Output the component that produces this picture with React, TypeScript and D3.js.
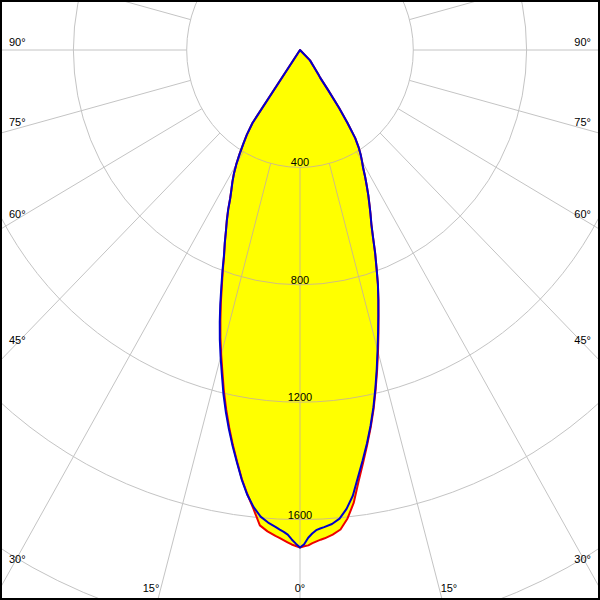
import React from "react";
import * as d3 from "d3";

// Polar angles (degrees from nadir) at which intensities were read
const angles = [0, 0.5, 1, 1.5, 2, 2.5, 3, 4, 5, 6, 7, 8, 9, 10, 11, 12, 13, 14, 15, 16, 17, 18, 19, 20, 21, 22, 23, 24, 25, 26, 27, 28, 29, 30, 31, 32, 33, 34, 35, 36, 37, 38, 40, 45, 50, 55, 60, 65, 70, 75, 80, 85, 90];

// Blue curve (cd), left and right half-planes
const blueLeft = [1695, 1682, 1668, 1652, 1643, 1636, 1628, 1614, 1596, 1566, 1527, 1478, 1423, 1370, 1316, 1260, 1202, 1140, 1083, 1027, 969, 911, 853, 800, 749, 709, 669, 635, 600, 562, 533, 508, 481, 450, 415, 379, 345, 300, 0, 0, 0, 0, 0, 0, 0, 0, 0, 0, 0, 0, 0, 0, 0];
const blueRight = [1695, 1684, 1662, 1648, 1637, 1632, 1628, 1619, 1603, 1572, 1530, 1470, 1415, 1361, 1305, 1246, 1183, 1120, 1058, 1000, 946, 895, 845, 790, 740, 688, 645, 612, 580, 550, 519, 490, 460, 438, 416, 390, 358, 300, 240, 170, 119, 105, 80, 50, 0, 0, 0, 0, 0, 0, 0, 0, 0];

// Red curve (cd), left and right half-planes
const redLeft = [1695, 1690, 1685, 1678, 1671, 1664, 1658, 1644, 1626, 1572, 1525, 1476, 1420, 1366, 1310, 1253, 1194, 1132, 1075, 1019, 961, 904, 847, 796, 747, 708, 669, 635, 600, 562, 533, 508, 481, 450, 415, 379, 345, 300, 0, 0, 0, 0, 0, 0, 0, 0, 0, 0, 0, 0, 0, 0, 0];
const redRight = [1695, 1691, 1688, 1681, 1675, 1670, 1666, 1655, 1640, 1605, 1555, 1485, 1424, 1366, 1309, 1250, 1187, 1125, 1064, 1005, 948, 896, 845, 790, 740, 688, 645, 612, 580, 550, 519, 490, 460, 438, 416, 390, 358, 300, 240, 170, 119, 105, 80, 50, 0, 0, 0, 0, 0, 0, 0, 0, 0];

// Grid
const ringValues = [400, 800, 1200, 1600, 2000, 2400, 2800, 3200];
const ringLabels = [400, 800, 1200, 1600];
const spokeAngles = d3.range(0, 360, 15);
const angleLabels = [0, 15, 30, 45, 60, 75, 90];

const W = 600;
const H = 600;
const cx = 300;
const cy = 50;
const rX = d3.scaleLinear().domain([0, 400]).range([0, 113.3]);
const rY = d3.scaleLinear().domain([0, 400]).range([0, 117.4]);

const FONT = "'Liberation Sans', Arial, sans-serif";
const GRID = "#c4c4c4";
const GRID_ON_FILL = "#cfbd82";

function pt(angleDeg: number, value: number, side: number): [number, number] {
  const a = (angleDeg * Math.PI) / 180;
  return [cx + side * Math.sin(a) * rX(value), cy + Math.cos(a) * rY(value)];
}

function curvePoints(left: number[], right: number[]): [number, number][] {
  const pts: [number, number][] = [];
  for (let i = angles.length - 1; i >= 0; i--) pts.push(pt(angles[i], left[i], -1));
  for (let i = 1; i < angles.length; i++) pts.push(pt(angles[i], right[i], 1));
  return pts;
}

const lineGen = d3.line().curve(d3.curveLinearClosed);

function Grid({ color, clip }: { color: string; clip?: string }) {
  return (
    <g clipPath={clip} fill="none" stroke={color} strokeWidth={1}>
      {ringValues.map((v) => (
        <ellipse key={"r" + v} cx={cx} cy={cy} rx={rX(v)} ry={rY(v)} />
      ))}
      {spokeAngles.map((a) => {
        const p0 = pt(a, 400, 1);
        const p1 = pt(a, 4000, 1);
        return <line key={"s" + a} x1={p0[0]} y1={p0[1]} x2={p1[0]} y2={p1[1]} />;
      })}
    </g>
  );
}

function angleLabelNodes() {
  const nodes: JSX.Element[] = [];
  angleLabels.forEach((a) => {
    const sides = a === 0 ? [1] : [-1, 1];
    sides.forEach((s) => {
      const rad = (a * Math.PI) / 180;
      const dx = s * Math.sin(rad) * rX(1);
      const dy = Math.cos(rad) * rY(1);
      const tBottom = dy > 1e-9 ? (H - cy) / dy : Infinity;
      const tSide = Math.abs(dx) > 1e-9 ? (s > 0 ? W - cx : cx) / Math.abs(dx) : Infinity;
      const txt = `${a}°`;
      if (tBottom < tSide) {
        const yb = 590;
        const t = (yb - cy) / dy;
        const x = cx + dx * t;
        const anchor = a === 0 ? "middle" : s < 0 ? "end" : "start";
        nodes.push(
          <text key={`l${a}_${s}`} x={a === 0 ? x : x + s * 1} y={592} textAnchor={anchor}>
            {txt}
          </text>
        );
      } else {
        const xl = s < 0 ? 12 : W - 12;
        const t = Math.abs(xl - cx) / Math.abs(dx);
        const y = cy + dy * t;
        nodes.push(
          <text key={`l${a}_${s}`} x={s < 0 ? 9 : W - 9} y={y - 4} textAnchor={s < 0 ? "start" : "end"}>
            {txt}
          </text>
        );
      }
    });
  });
  return nodes;
}

export default function App() {
  const redPts = curvePoints(redLeft, redRight);
  const bluePts = curvePoints(blueLeft, blueRight);
  const redPath = lineGen(redPts) || "";
  const bluePath = lineGen(bluePts) || "";

  return (
    <svg
      width={W}
      height={H}
      style={{ position: "absolute", left: 0, top: 0, display: "block" }}
      fontFamily={FONT}
      fontSize={11}
    >
      <defs>
        <clipPath id="lobeClip">
          <path d={redPath} />
          <path d={bluePath} />
        </clipPath>
        <clipPath id="frameClip">
          <rect x={0} y={0} width={W} height={H} />
        </clipPath>
      </defs>
      <rect x={0} y={0} width={W} height={H} fill="#ffffff" />
      <g clipPath="url(#frameClip)">
        <Grid color={GRID} />
        <path d={redPath} fill="#ffff00" stroke="none" />
        <path d={bluePath} fill="#ffff00" stroke="none" />
        <Grid color={GRID_ON_FILL} clip="url(#lobeClip)" />
        <path d={redPath} fill="none" stroke="#ee0000" strokeWidth={2} strokeLinejoin="round" />
        <path d={bluePath} fill="none" stroke="#0000cc" strokeWidth={2} strokeLinejoin="round" />
        {ringLabels.map((v) => (
          <text key={"rl" + v} x={cx} y={cy + rY(v) - 1} textAnchor="middle" fill="#000">
            {v}
          </text>
        ))}
        <g fill="#000">{angleLabelNodes()}</g>
      </g>
      <rect x={1} y={1} width={W - 2} height={H - 2} fill="none" stroke="#000" strokeWidth={2} />
    </svg>
  );
}
